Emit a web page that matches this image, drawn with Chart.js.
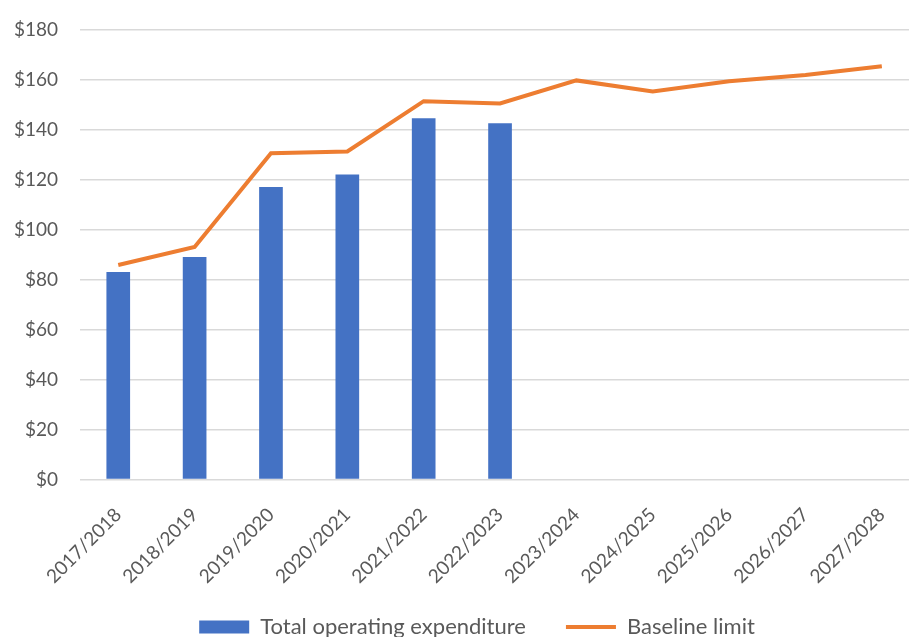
<!DOCTYPE html>
<html>
<head>
<meta charset="utf-8">
<script src="https://cdn.jsdelivr.net/npm/chart.js@4.4.1/dist/chart.umd.min.js"></script>
<style>
  html, body { margin: 0; padding: 0; background: #fff; overflow: hidden; }
  #wrap { position: relative; width: 909px; height: 637px; overflow: hidden; }
  #opexChart { position: absolute; left: -8px; top: -4px; }
</style>
</head>
<body>
<div id="wrap"><canvas id="opexChart" width="948" height="680"></canvas></div>
<script>
// Financial years on the x axis
const years = ['2017/2018', '2018/2019', '2019/2020', '2020/2021', '2021/2022', '2022/2023',
    '2023/2024', '2024/2025', '2025/2026', '2026/2027', '2027/2028'];

// Actual spend (only reported up to 2022/2023)
const totalOpex = [83, 89, 117, 122, 144.5, 142.5, null, null, null, null, null];

// Baseline limit for every year
const baselineLimit = [85.8, 93, 130.5, 131.2, 151.3, 150.4, 159.6, 155.2, 159.3, 161.8, 165.3];

const yTicks = { min: 0, max: 180, step: 20 };

const textColor = '#595959';
const fontFamily = 'Lato, "Open Sans", sans-serif';

// Moves the legend block after layout (Chart.js has no offset option for it)
const legendNudge = {
    id: 'legendNudge',
    afterLayout(chart, args, opts) {
        let lg = chart.legend;
        if (!lg) return;
        lg.left += opts.dx;
        lg.right += opts.dx;
        lg.top += opts.dy;
        lg.bottom += opts.dy;
    }
};

document.addEventListener('DOMContentLoaded', () => {
    let ctx = document.getElementById('opexChart').getContext('2d');

    new Chart(ctx, {
        data: {
            labels: years,
            datasets: [{
                type: 'line',
                label: 'Baseline limit',
                data: baselineLimit,
                borderColor: '#ED7D31',
                backgroundColor: '#ED7D31',
                borderWidth: 4,
                pointRadius: 0,
                tension: 0,
                pointStyle: 'line',
                order: 1
            }, {
                type: 'bar',
                label: 'Total operating expenditure',
                data: totalOpex,
                backgroundColor: '#4472C4',
                borderWidth: 0,
                barPercentage: 0.31,
                categoryPercentage: 1,
                pointStyle: 'rect',
                order: 2
            }]
        },
        plugins: [legendNudge],
        options: {
            responsive: false,
            animation: false,
            layout: { padding: { top: 10, right: 20, left: 0, bottom: 0 } },
            plugins: {
                legendNudge: { dx: 21, dy: -28 },
                legend: {
                    position: 'bottom',
                    reverse: true,
                    labels: {
                        usePointStyle: true,
                        pointStyleWidth: 50,
                        boxHeight: 13,
                        padding: 40,
                        color: textColor,
                        font: { family: fontFamily, size: 22 }
                    }
                },
                tooltip: { enabled: false }
            },
            scales: {
                x: {
                    grid: { display: false },
                    border: { display: false },
                    ticks: {
                        color: textColor,
                        font: { family: fontFamily, size: 19 },
                        minRotation: 45,
                        maxRotation: 45,
                        autoSkip: false,
                        padding: 16
                    }
                },
                y: {
                    min: yTicks.min,
                    max: yTicks.max,
                    border: { display: false },
                    grid: { color: '#d9d9d9', lineWidth: 1.5, drawTicks: false },
                    ticks: {
                        stepSize: yTicks.step,
                        color: textColor,
                        font: { family: fontFamily, size: 19 },
                        padding: 22,
                        callback: value => '$' + value
                    }
                }
            }
        }
    });
});
</script>
</body>
</html>
